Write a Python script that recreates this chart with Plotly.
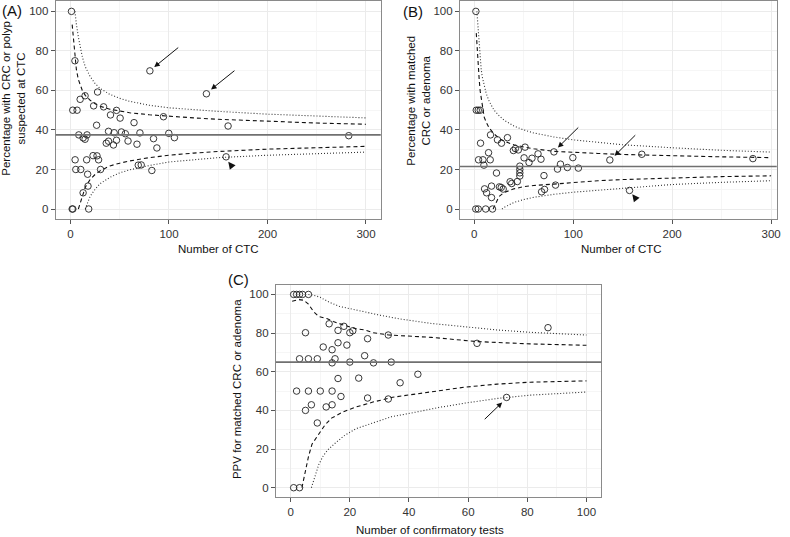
import plotly.graph_objects as go

W, H = 790, 537
FONT = "Liberation Sans, Arial, Helvetica, sans-serif"

# ---------------- Panel A : % with CRC or polyp suspected at CTC ----------------
a_n = [1, 4.5, 2.3, 6.7, 9.8, 14.8, 27.5, 23.5, 33.6, 40.6, 46.7, 50.4, 64.5, 94.4, 80.6,
       138, 160, 282.5, 26.5, 38.6, 44.3, 51.7, 55.7, 70.5, 99.8, 105.5, 84.3, 87.7, 8.4,
       12.8, 14.8, 16.8, 38.6, 36.3, 43.6, 46.7, 58.4, 67.5, 4.7, 16.4, 22.9, 26.9, 28.5,
       5.4, 10.4, 30.5, 17.4, 17.8, 12.8, 1.7, 2.4, 18.5, 68.8, 71.8, 82.6, 158]
a_pct = [100, 75, 50, 50, 55.5, 57.3, 59.2, 52.2, 51.7, 47.6, 49.9, 46.0, 43.7, 46.7, 69.9,
         58.3, 42.0, 37.1, 42.4, 39.3, 38.6, 39.0, 38.1, 38.5, 38.3, 36.1, 35.6, 30.9, 37.5,
         36.0, 35.3, 37.5, 34.3, 33.3, 32.4, 34.8, 34.4, 32.8, 24.9, 24.9, 27.0, 26.9, 24.9,
         20, 20, 20, 17.6, 11.6, 8.2, 0, 0, 0, 22.2, 22.3, 19.5, 26.4]
a_mean = 37.5

a_dash_up_n = [1.7, 2, 3, 4, 5, 6, 8, 10, 12, 15, 20, 25, 30, 40, 50, 60, 80, 100, 125, 150, 200, 250, 300]
a_dash_up = [93.3, 91.5, 85.5, 79, 74, 70.5, 65.5, 62.5, 60, 57.5, 55, 53.3, 52, 50.5, 49.5, 48.7,
             47.7, 46.9, 46.1, 45.4, 44.3, 43.5, 42.9]
a_dash_lo_n = [8, 10, 12, 15, 20, 25, 30, 40, 50, 60, 80, 100, 125, 150, 200, 250, 300]
a_dash_lo = [0, 3.5, 7, 11, 15, 17.5, 19.3, 21.8, 23.2, 24.3, 26, 27.2, 28.3, 29.1, 30.3, 31.1, 31.7]
a_dot_up_n = [4.5, 5, 6, 8, 10, 12, 15, 20, 25, 30, 40, 50, 60, 80, 100, 125, 150, 200, 250, 300]
a_dot_up = [100, 97, 93.5, 87, 81.5, 77, 72, 67, 63.5, 61, 58, 56, 54.5, 52.5, 51.2, 50.3, 49.4,
            48, 47, 46.1]
a_dot_lo_n = [15, 18, 20, 25, 30, 40, 50, 60, 80, 100, 125, 150, 200, 250, 300]
a_dot_lo = [0, 4, 6.5, 10, 12.8, 16, 18.3, 19.8, 22, 23.8, 25.0, 26.0, 27.2, 28.1, 28.8]

a_arrow_head_x = [85, 142.7]
a_arrow_head_y = [71.8, 60.5]
a_arrow_tail_x = [110.9, 168]
a_arrow_tail_y = [82.3, 70.6]
a_tri_head = (160.2, 23.9)
a_tri_tail = (164.2, 21.3)

# ---------------- Panel B : % with matched CRC or adenoma ----------------
b_n = [1.6, 2, 4, 6, 6.3, 16.4, 23.4, 27.5, 33.5, 14.4, 4.3, 8.7, 16.1, 9.7, 39.5, 41.5, 44.5,
       51.3, 50.3, 55.3, 58.3, 64.4, 67.4, 80.5, 87.1, 84.1, 94.1, 99.6, 105.2, 46, 46, 46, 46,
       70.4, 22.4, 36.2, 37.8, 43.5, 25.4, 27.2, 29.2, 17.4, 10.4, 12.4, 17.4, 68, 71, 82.1,
       1.5, 4, 11.5, 18.4, 137, 169.3, 281.6, 156.9]
b_pct = [100, 50, 50, 50, 33.3, 37.5, 35.0, 33.3, 36.1, 28.5, 24.9, 24.9, 24.9, 22.2, 29.6, 30.6,
         29.9, 31.3, 25.9, 23.5, 25.7, 27.9, 25.2, 28.9, 22.7, 20.2, 21.0, 26.0, 20.7, 21.7, 20.0,
         18.3, 16.7, 16.9, 18.2, 13.8, 12.9, 13.9, 11.2, 10.9, 10.1, 11.6, 10.2, 8.2, 5.8, 8.7,
         9.9, 12.1, 0, 0, 0, 0, 24.8, 27.7, 25.5, 9.4]
b_mean = 21.5

b_dash_up_n = [2, 3, 4, 5, 6, 8, 10, 12, 15, 20, 25, 30, 40, 50, 60, 80, 100, 125, 150, 200, 250, 300]
b_dash_up = [89, 79, 72, 65, 59.5, 52, 46.5, 44, 41, 38, 35.8, 34.3, 32.5, 31.4, 30.5, 29.2, 28.6,
             28.1, 27.6, 26.9, 26.4, 26.0]
b_dash_lo_n = [19, 20, 22, 25, 30, 40, 50, 60, 80, 100, 125, 150, 200, 250, 300]
b_dash_lo = [0, 1, 3.8, 6.3, 8.3, 10.2, 11.3, 11.9, 12.6, 13.5, 14.3, 14.9, 15.8, 16.4, 16.8]
b_dot_up_n = [2.6, 3, 4, 5, 6, 7, 8, 10, 12, 15, 20, 25, 30, 40, 50, 60, 80, 100, 125, 150, 200, 250, 300]
b_dot_up = [100, 97, 88, 80, 74.5, 70.5, 67, 62, 58.5, 54.5, 50, 47.2, 45, 42, 40, 38.5, 36.5, 35,
            33.6, 32.5, 31, 29.7, 28.8]
b_dot_lo_n = [28, 30, 40, 50, 60, 80, 100, 125, 150, 200, 250, 300]
b_dot_lo = [0, 0.8, 3.3, 4.8, 5.9, 7.4, 8.5, 9.5, 10.4, 12.4, 13.5, 14.3]

b_arrow_head_x = [84.5, 141.8]
b_arrow_head_y = [31.1, 26.9]
b_arrow_tail_x = [106.6, 164.2]
b_arrow_tail_y = [42.0, 38.1]
b_tri_head = (159.7, 7.5)
b_tri_tail = (163.7, 4.9)

# ---------------- Panel C : PPV for matched CRC or adenoma ----------------
c_n = [1, 2, 3, 4, 6, 5, 13, 16, 18, 20, 21, 26, 33, 11, 14, 16, 19, 25, 3, 6, 9, 15, 14, 20, 28,
       34, 16, 23, 37, 43, 2, 6, 10, 14, 17, 26, 33, 5, 7, 12, 14, 9, 1, 3, 73, 63, 87]
c_pct = [100, 100, 100, 100, 100, 80.2, 84.8, 81.4, 83.5, 80.2, 81.2, 77.1, 79.0, 72.8, 71.4, 75,
         73.8, 68.3, 66.7, 66.7, 66.7, 66.7, 64.6, 65, 64.6, 65, 56.5, 56.7, 54.3, 58.7, 50, 50,
         50, 50, 47.2, 46.4, 45.9, 40, 42.9, 41.8, 42.9, 33.5, 0, 0, 46.7, 74.7, 82.8]
c_mean = 65

c_dash_up_n = [0.5, 2.8, 4.4, 6, 7.8, 9.5, 12.2, 14.4, 17.8, 22.2, 25.1, 27.8, 33.2, 39, 47.5, 63.1, 81, 100]
c_dash_up = [96.5, 97.3, 97, 95, 91, 88.6, 87.5, 86, 84.2, 82.2, 81.6, 80.2, 79, 78.4, 77.8, 75.6, 74.4, 73.7]
c_dash_lo_n = [3.8, 4.9, 6, 7.2, 9.4, 11.6, 13.8, 17.8, 22.2, 27.8, 34.5, 47.5, 58.7, 69.8, 81, 100]
c_dash_lo = [0, 8, 16, 22.5, 27.5, 32.5, 36, 39.3, 41.8, 44.3, 46.8, 49.8, 52, 53.6, 54.6, 55.3]
c_dot_up_n = [6, 8, 10, 13, 16.5, 20, 25, 30, 37, 47.5, 58.7, 70, 81, 100]
c_dot_up = [100, 99.5, 98.5, 96, 93.8, 92.5, 91, 89.3, 87.3, 85, 83.2, 81.6, 80.4, 79]
c_dot_lo_n = [7, 8.2, 9.5, 11, 12.5, 15, 18, 22, 28, 34, 42, 50, 59, 70, 81, 100]
c_dot_lo = [0, 6, 12, 16.5, 19.5, 23, 26.8, 30.5, 33.8, 36.7, 39, 41.5, 43.8, 46.2, 47.9, 49.5]

c_arrow_head = (71.5, 44.1)
c_arrow_tail = (65.1, 34.7)

# ---------------- figure ----------------
fig = go.Figure()

DASH = "4px,3px"
DOT = "1px,2px"
MARK = "#222222"


def add_panel(xa, ya, n, pct, lines):
    for xs, ys, dash, col, w in lines:
        fig.add_trace(go.Scatter(x=xs, y=ys, mode="lines", xaxis=xa, yaxis=ya,
                                 line=dict(color=col, width=w, dash=dash),
                                 hoverinfo="skip", showlegend=False))
    fig.add_trace(go.Scatter(x=n, y=pct, mode="markers", xaxis=xa, yaxis=ya,
                             marker=dict(symbol="circle-open", size=6.5, color=MARK,
                                         line=dict(color=MARK, width=0.9)),
                             showlegend=False))


add_panel("x", "y", a_n, a_pct, [
    (a_dot_up_n, a_dot_up, DOT, "#333333", 1.1),
    (a_dot_lo_n, a_dot_lo, DOT, "#333333", 1.1),
    (a_dash_up_n, a_dash_up, DASH, "#111111", 1.1),
    (a_dash_lo_n, a_dash_lo, DASH, "#111111", 1.1),
])
add_panel("x2", "y2", b_n, b_pct, [
    (b_dot_up_n, b_dot_up, DOT, "#333333", 1.1),
    (b_dot_lo_n, b_dot_lo, DOT, "#333333", 1.1),
    (b_dash_up_n, b_dash_up, DASH, "#111111", 1.1),
    (b_dash_lo_n, b_dash_lo, DASH, "#111111", 1.1),
])
add_panel("x3", "y3", c_n, c_pct, [
    (c_dot_up_n, c_dot_up, DOT, "#333333", 1.1),
    (c_dot_lo_n, c_dot_lo, DOT, "#333333", 1.1),
    (c_dash_up_n, c_dash_up, DASH, "#111111", 1.1),
    (c_dash_lo_n, c_dash_lo, DASH, "#111111", 1.1),
])

# mean lines
for xr, yr, m in [("x domain", "y", a_mean), ("x2 domain", "y2", b_mean), ("x3 domain", "y3", c_mean)]:
    fig.add_shape(type="line", xref=xr, yref=yr, x0=0, x1=1, y0=m, y1=m,
                  line=dict(color="#707070", width=1.7), layer="above")


def px2paper_x(px):
    return px / W


def px2paper_y(py):
    return 1 - py / H


axis_common = dict(showline=True, mirror=True, linecolor="#8a8a8a", linewidth=1.1,
                   showgrid=True, gridcolor="#ebebeb", gridwidth=0.8,
                   minor=dict(showgrid=True, gridcolor="#f6f6f6", gridwidth=0.5),
                   ticks="outside", ticklen=4, tickwidth=1, tickcolor="#555555",
                   tickfont=dict(family=FONT, size=11.5, color="#333333"),
                   zeroline=False, fixedrange=True)

ydomAB = [px2paper_y(218.3), px2paper_y(0.5)]
fig.update_layout(
    xaxis=dict(domain=[px2paper_x(56), px2paper_x(382.7)], range=[-15, 315], anchor="y",
               tickvals=[0, 100, 200, 300], minor_tickvals=[50, 150, 250],
               **axis_common),
    yaxis=dict(domain=ydomAB, range=[-5, 105], anchor="x",
               tickvals=[0, 20, 40, 60, 80, 100], minor_tickvals=[10, 30, 50, 70, 90],
               **axis_common),
    xaxis2=dict(domain=[px2paper_x(462.3), px2paper_x(780.7)], range=[-14.5, 305.7], anchor="y2",
                tickvals=[0, 100, 200, 300], minor_tickvals=[50, 150, 250],
                **axis_common),
    yaxis2=dict(domain=ydomAB, range=[-5, 105], anchor="x2",
                tickvals=[0, 20, 40, 60, 80, 100], minor_tickvals=[10, 30, 50, 70, 90],
                **axis_common),
    xaxis3=dict(domain=[px2paper_x(277.3), px2paper_x(604.3)], range=[-5, 105], anchor="y3",
                tickvals=[0, 20, 40, 60, 80, 100], minor_tickvals=[10, 30, 50, 70, 90],
                **axis_common),
    yaxis3=dict(domain=[px2paper_y(497.3), px2paper_y(284.3)], range=[-5, 105], anchor="x3",
                tickvals=[0, 20, 40, 60, 80, 100], minor_tickvals=[10, 30, 50, 70, 90],
                **axis_common),
)

ann = []
title_font = dict(family=FONT, size=11.5, color="#111111")
label_font = dict(family=FONT, size=15, color="#111111")

# panel labels
ann.append(dict(text="(A)", x=px2paper_x(0), y=px2paper_y(-1), xanchor="left", yanchor="top",
                font=label_font))
ann.append(dict(text="(B)", x=px2paper_x(403), y=px2paper_y(0), xanchor="left", yanchor="top",
                font=label_font))
ann.append(dict(text="(C)", x=px2paper_x(227), y=px2paper_y(269), xanchor="left", yanchor="top",
                font=label_font))

# axis titles
ann.append(dict(text="Number of CTC", x=px2paper_x(219.3), y=px2paper_y(248), xanchor="center",
                yanchor="middle", font=title_font))
ann.append(dict(text="Number of CTC", x=px2paper_x(624.7), y=px2paper_y(248), xanchor="center",
                yanchor="middle", font=title_font))
ann.append(dict(text="Number of confirmatory tests", x=px2paper_x(431.7), y=px2paper_y(530),
                xanchor="center", yanchor="middle", font=title_font))
ann.append(dict(text="Percentage with CRC or polyp<br>suspected at CTC", x=px2paper_x(13.5),
                y=px2paper_y(97.5), xanchor="center", yanchor="middle", textangle=-90,
                font=title_font))
ann.append(dict(text="Percentage with matched<br>CRC or adenoma", x=px2paper_x(421),
                y=px2paper_y(100), xanchor="center", yanchor="middle", textangle=-90,
                font=title_font))
ann.append(dict(text="PPV for matched CRC or adenoma", x=px2paper_x(238), y=px2paper_y(389),
                xanchor="center", yanchor="middle", textangle=-90, font=title_font))

for a in ann:
    a.update(xref="paper", yref="paper", showarrow=False)

# arrows
arrow_style = dict(text="", showarrow=True, arrowhead=2, arrowsize=1.1, arrowwidth=1,
                   arrowcolor="#111111", standoff=0, startstandoff=0)
for hx, hy, tx, ty in zip(a_arrow_head_x, a_arrow_head_y, a_arrow_tail_x, a_arrow_tail_y):
    ann.append(dict(x=hx, y=hy, ax=tx, ay=ty, xref="x", yref="y", axref="x", ayref="y", **arrow_style))
for hx, hy, tx, ty in zip(b_arrow_head_x, b_arrow_head_y, b_arrow_tail_x, b_arrow_tail_y):
    ann.append(dict(x=hx, y=hy, ax=tx, ay=ty, xref="x2", yref="y2", axref="x2", ayref="y2", **arrow_style))
ann.append(dict(x=c_arrow_head[0], y=c_arrow_head[1], ax=c_arrow_tail[0], ay=c_arrow_tail[1],
                xref="x3", yref="y3", axref="x3", ayref="y3", **arrow_style))
tri_style = dict(arrow_style)
tri_style.update(arrowsize=1.45)
ann.append(dict(x=a_tri_head[0], y=a_tri_head[1], ax=a_tri_tail[0], ay=a_tri_tail[1],
                xref="x", yref="y", axref="x", ayref="y", **tri_style))
ann.append(dict(x=b_tri_head[0], y=b_tri_head[1], ax=b_tri_tail[0], ay=b_tri_tail[1],
                xref="x2", yref="y2", axref="x2", ayref="y2", **tri_style))

fig.update_layout(
    annotations=ann,
    width=W, height=H,
    margin=dict(l=0, r=0, t=0, b=0),
    paper_bgcolor="white", plot_bgcolor="white",
    showlegend=False,
    font=dict(family=FONT, size=11.5, color="#111111"),
)

fig.write_html("out.html", config={"displayModeBar": False},
               post_script="document.body.style.margin='0';document.body.style.padding='0';")
